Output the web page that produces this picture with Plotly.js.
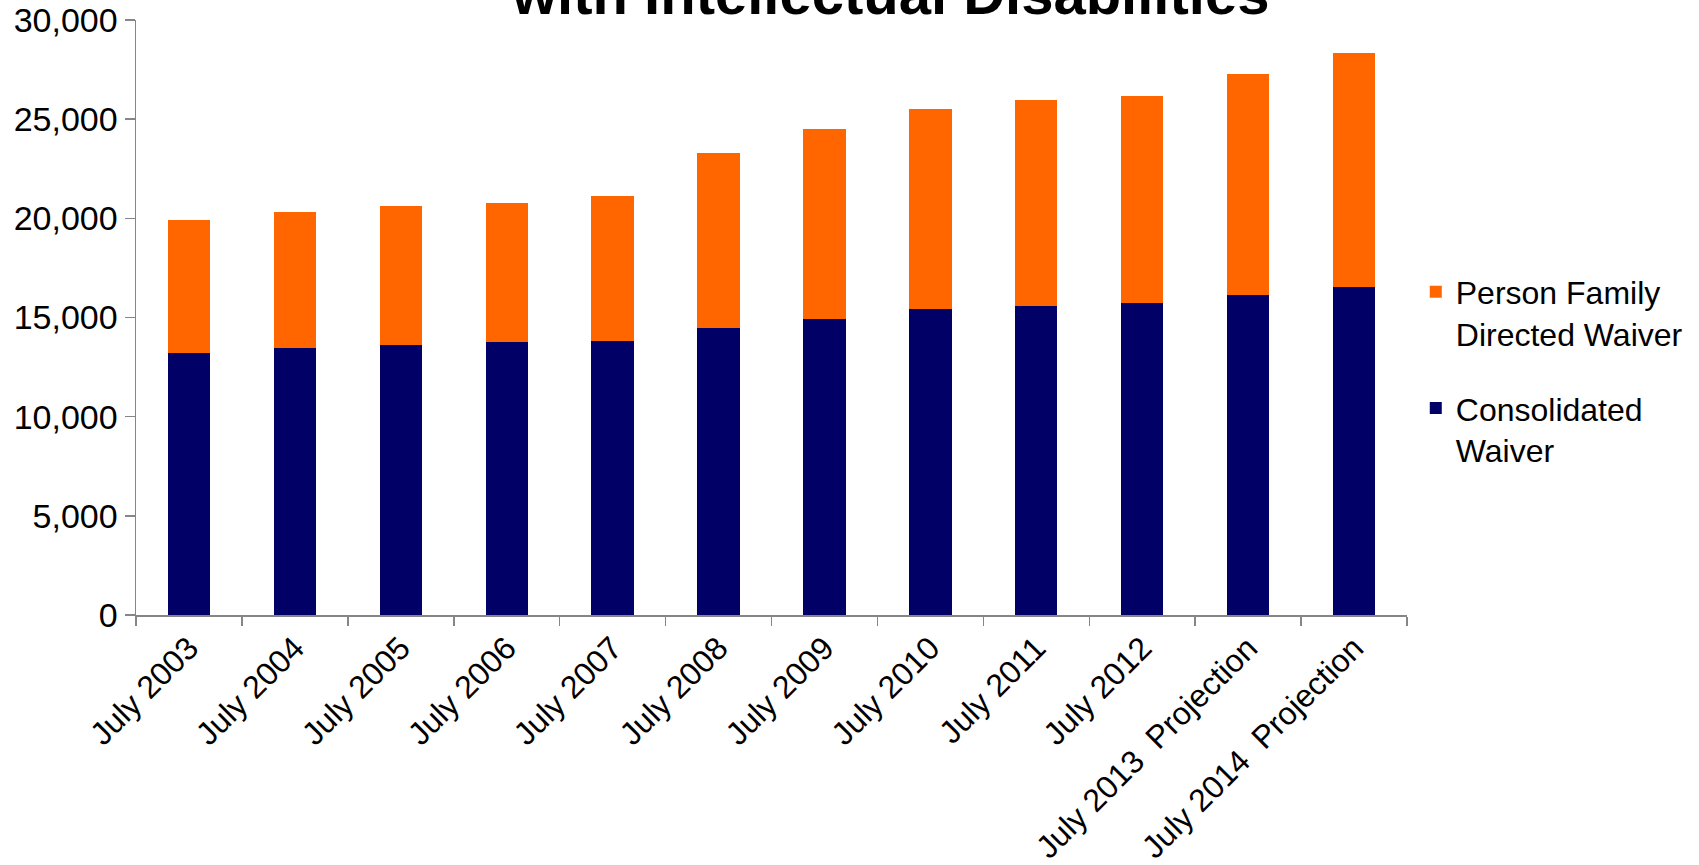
<!DOCTYPE html>
<html>
<head>
<meta charset="utf-8">
<script src="https://cdn.plot.ly/plotly-3.0.1.min.js"></script>
<style>html,body{margin:0;padding:0;background:#fff;}#chart{width:1699px;height:865px;}</style>
</head>
<body>
<div id="chart"></div>
<script>
var categories = ["July 2003","July 2004","July 2005","July 2006","July 2007","July 2008","July 2009","July 2010","July 2011","July 2012","July 2013  Projection","July 2014  Projection"];
var consolidatedWaiver = [13230,13450,13630,13750,13800,14490,14940,15450,15600,15710,16120,16520];
var personFamilyDirectedWaiver = [6670,6870,6990,7020,7340,8790,9560,10060,10390,10440,11140,11820];
var seriesNames = ["Consolidated<br>Waiver","Person Family<br>Directed Waiver"];
var titleText = "with Intellectual Disabilities";
var yTickVals = [0,5000,10000,15000,20000,25000,30000];

var font = "Arial, 'Liberation Sans', sans-serif";

var traces = [
  {type:"bar", x:categories, y:consolidatedWaiver, name:seriesNames[0], legendgroup:"a", legendrank:2,
   marker:{color:"#000066", line:{width:0}}, hoverinfo:"x+y"},
  {type:"bar", x:categories, y:personFamilyDirectedWaiver, name:seriesNames[1], legendgroup:"b", legendrank:1,
   marker:{color:"#FF6600", line:{width:0}}, hoverinfo:"x+y"}
];

var layout = {
  width:1699, height:865,
  margin:{l:136, r:292, t:20, b:250, pad:0, autoexpand:false},
  paper_bgcolor:"#ffffff", plot_bgcolor:"#ffffff",
  barmode:"stack", bargap:0.6,
  font:{family:font, size:32, color:"#000000"},
  showlegend:true,
  legend:{x:1.0069, xanchor:"left", y:0.589, yanchor:"top", traceorder:"grouped", tracegroupgap:30, valign:"top",
          font:{family:font, size:32, color:"#000000"}, bgcolor:"rgba(0,0,0,0)", itemwidth:30},
  xaxis:{type:"category", showline:true, linecolor:"#868686", linewidth:1.5, ticks:"outside", ticklen:9,
         tickcolor:"#868686", tickwidth:1.5, tickson:"boundaries", tickangle:-45, showgrid:false, zeroline:false,
         tickfont:{family:font, size:32, color:"#000000"}, automargin:false},
  yaxis:{range:[0,30000], tickvals:yTickVals, tickformat:",d", showline:true, linecolor:"#868686", linewidth:1.5,
         ticks:"outside", ticklen:10, tickcolor:"#868686", tickwidth:1.5, showgrid:false, zeroline:false,
         tickfont:{family:font, size:34, color:"#000000"}, automargin:false},
  annotations:[{text:"<b>"+titleText+"</b>", xref:"paper", yref:"paper", x:0.593, y:0.986, xanchor:"center", yanchor:"bottom",
                showarrow:false, font:{family:font, size:58, color:"#000000"}}]
};

Plotly.newPlot("chart", traces, layout, {displayModeBar:false, staticPlot:true});
</script>
</body>
</html>
